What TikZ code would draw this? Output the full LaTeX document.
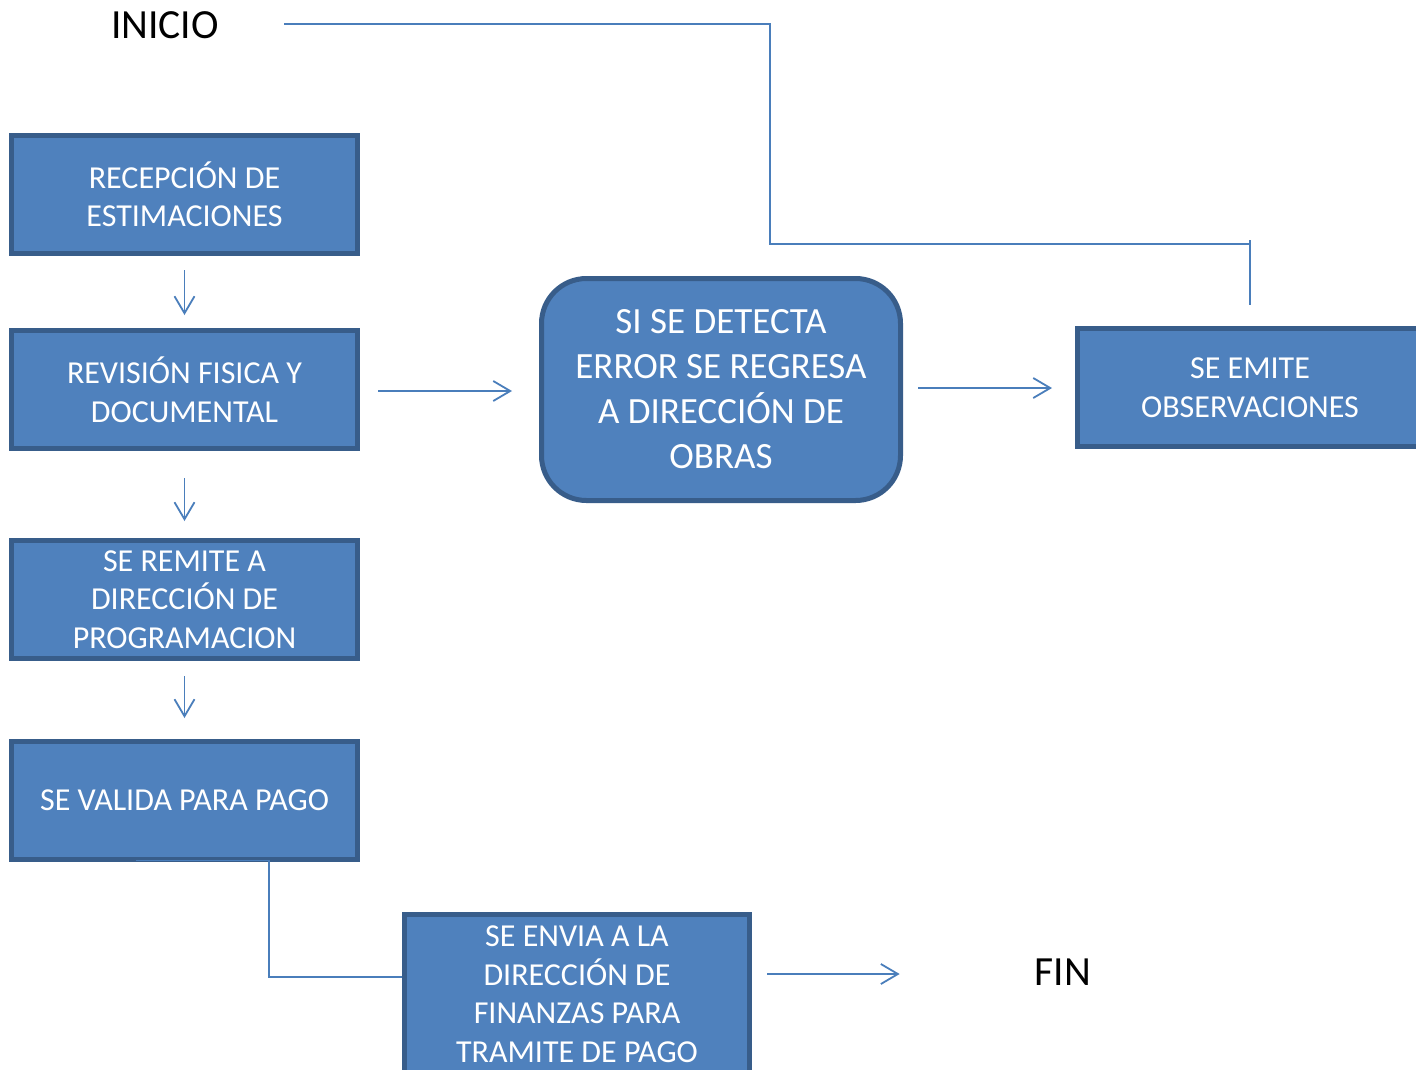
\documentclass[tikz,border=0pt]{standalone}
\usepackage{fontspec}
\setmainfont{Carlito}
\usetikzlibrary{arrows.meta}
\definecolor{boxfill}{HTML}{4F81BD}
\definecolor{boxline}{HTML}{385D8A}
\definecolor{conncol}{HTML}{4A7EBB}
\tikzset{
  x=1pt,y=1pt,
  procbox/.style={draw=boxline, fill=boxfill, line width=5pt, text=white,
    align=center, inner sep=0pt, font=\fontsize{32}{38.5}\selectfont},
  conn/.style={draw=conncol, line width=1.8pt},
  arr/.style={conn, -{Straight Barb[length=17pt,width=20pt,line width=1.8pt]}},
  label/.style={font=\fontsize{41.5}{48}\selectfont, inner sep=0pt}
}
\begin{document}
\begin{tikzpicture}
\clip (0,0) rectangle (1416,-1069);
\fill[white] (0,0) rectangle (1416,-1069);

\node[label] (inicio) at (165,-25) {INICIO};
\node[label] (fin) at (1063,-972) {FIN};

\node[procbox, minimum width=346pt, minimum height=118pt] (b1) at (184.5,-194) {RECEPCIÓN DE\\ESTIMACIONES};
\node[procbox, minimum width=346pt, minimum height=118pt] (b2) at (184.5,-389.5) {REVISIÓN FISICA Y\\DOCUMENTAL};
\node[procbox, minimum width=346pt, minimum height=118pt] (b3) at (184.5,-599.5) {SE REMITE A\\DIRECCIÓN DE\\PROGRAMACION};
\node[procbox, minimum width=346pt, minimum height=118pt] (b4) at (184.5,-800.5) {SE VALIDA PARA PAGO};
\node[procbox, minimum width=359pt, minimum height=222pt, rounded corners=45pt,
  font=\fontsize{37}{45}\selectfont] (mid) at (721,-389.5) {SI SE DETECTA\\ERROR SE REGRESA\\A DIRECCIÓN DE\\OBRAS};
\node[procbox, minimum width=345pt, minimum height=118pt] (emite) at (1250,-387.5) {SE EMITE\\OBSERVACIONES};
\node[procbox, minimum width=345pt, minimum height=159pt] (b5) at (577,-994) {SE ENVIA A LA\\DIRECCIÓN DE\\FINANZAS PARA\\TRAMITE DE PAGO};

\draw[arr, shorten <=14.5pt, shorten >=13pt] (b1.south) -- (b2.north);
\draw[arr, shorten <=27pt, shorten >=17pt] (b2.south) -- (b3.north);
\draw[arr, shorten <=15pt, shorten >=21pt] (b3.south) -- (b4.north);
\draw[arr, shorten <=18pt, shorten >=27pt] ([yshift=-1.5pt]b2.east) -- ([yshift=-1.5pt]mid.west);
\draw[arr, shorten <=15pt, shorten >=23pt] ([yshift=1.5pt]mid.east) -- ([yshift=-0.5pt]emite.west);
\draw[arr, shorten <=15pt, shorten >=135pt] ([yshift=20pt]b5.east) -- ([yshift=-2pt]fin.west);

\coordinate (ini) at (284,-24);
\coordinate (bend) at (770,-244);
\coordinate (tickc) at (1250,-244);
\coordinate (tickb) at (1250,-305);
\draw[conn] (ini) -| (bend) -- (tickc);
\draw[conn] ([yshift=4pt]tickc) -- (tickb);

\draw[conn] ([xshift=-48.5pt,yshift=1.5pt]b4.south) -- ++(133,0) |- ([yshift=17pt]b5.west);
\end{tikzpicture}
\end{document}
